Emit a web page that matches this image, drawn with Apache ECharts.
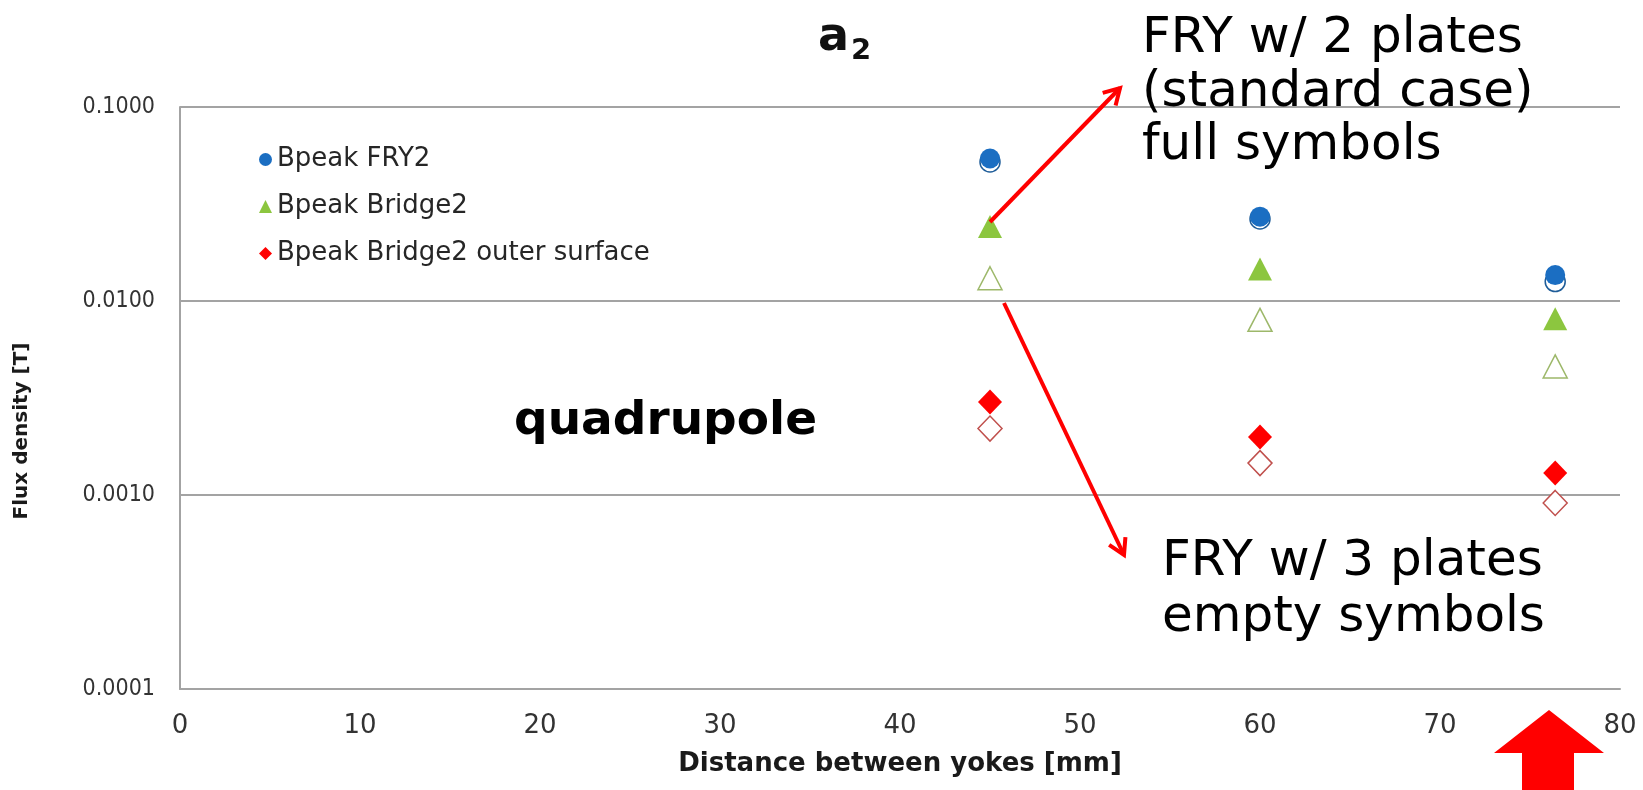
<!DOCTYPE html>
<html>
<head>
<meta charset="utf-8">
<script src="https://cdn.jsdelivr.net/npm/echarts@6/dist/echarts.min.js"></script>
<style>
  html, body { margin: 0; padding: 0; background: #ffffff; }
  #chart { width: 1643px; height: 790px; }
</style>
</head>
<body>
<div id="chart"></div>
<script>
// Distance between yokes [mm]
const distances = [45, 60, 76.4];

// Peak flux density [T], FRY with 2 plates (full symbols)
const fry2Plates = [0.0543, 0.0272, 0.0136];
const bridge2Plates = [0.0242, 0.0146, 0.0081];
const outer2Plates = [0.00302, 0.00199, 0.00130];

// Peak flux density [T], FRY with 3 plates (empty symbols)
const fry3Plates = [0.0521, 0.0265, 0.0126];
const bridge3Plates = [0.0131, 0.0080, 0.0046];
const outer3Plates = [0.00220, 0.00146, 0.00091];

const legendNames = ['Bpeak FRY2', 'Bpeak Bridge2', 'Bpeak Bridge2 outer surface'];
const xTicks = { min: 0, max: 80, step: 10 };
const yTicks = { min: 0.0001, max: 0.1 };

const FONT = 'DejaVu Sans';
const TICK_FONT = '"DejaVu Sans Condensed", "DejaVu Sans"';
const GRID_GRAY = '#a3a3a3';

function pairs(xs, ys) { return xs.map((x, i) => [x, ys[i]]); }

function fullSeries(name, symbol, size, color, ys) {
  return {
    name, type: 'scatter', symbol, symbolSize: size,
    itemStyle: { color, opacity: 1 },
    data: pairs(distances, ys), z: 3
  };
}
function emptySeries(name, symbol, size, stroke, ys) {
  return {
    name, type: 'scatter', symbol, symbolSize: size,
    itemStyle: { color: '#ffffff', borderColor: stroke, borderWidth: 1.5, opacity: 1 },
    data: pairs(distances, ys), z: 2
  };
}

const chart = echarts.init(document.getElementById('chart'), null, { renderer: 'canvas' });

chart.setOption({
  backgroundColor: '#ffffff',
  animation: false,
  title: {
    text: '{a|a}{s|2}',
    left: 813, top: 10,
    textStyle: {
      rich: {
        a: { fontFamily: FONT, fontWeight: 'bold', fontSize: 46, color: '#111', lineHeight: 46 },
        s: { fontFamily: FONT, fontWeight: 'bold', fontSize: 29, color: '#111', lineHeight: 20, padding: [26, 0, 0, 2] }
      }
    }
  },
  legend: {
    data: legendNames,
    orient: 'vertical',
    left: 254, top: 141,
    itemWidth: 13, itemHeight: 13, itemGap: 20,
    textStyle: { fontFamily: FONT, fontSize: 26, color: '#262626', lineHeight: 27 },
    selectedMode: false
  },
  grid: { left: 180, right: 23, top: 107, bottom: 101, containLabel: false },
  xAxis: {
    type: 'value', min: xTicks.min, max: xTicks.max, interval: xTicks.step,
    name: 'Distance between yokes [mm]',
    nameLocation: 'middle', nameGap: 62,
    nameTextStyle: { fontFamily: FONT, fontWeight: 'bold', fontSize: 26, color: '#1a1a1a' },
    axisLine: { show: true, lineStyle: { color: GRID_GRAY, width: 2 } },
    axisTick: { show: false },
    splitLine: { show: false },
    axisLabel: { fontFamily: FONT, fontSize: 26, color: '#333', margin: 24 }
  },
  yAxis: {
    type: 'log', logBase: 10, min: yTicks.min, max: yTicks.max,
    name: 'Flux density [T]',
    nameLocation: 'middle', nameGap: 148, nameRotate: 90,
    nameTextStyle: { fontFamily: FONT, fontWeight: 'bold', fontSize: 20, color: '#1a1a1a', padding: [0, 66, 0, 0] },
    axisLine: { show: true, lineStyle: { color: GRID_GRAY, width: 2 } },
    axisTick: { show: false },
    splitLine: { show: true, lineStyle: { color: GRID_GRAY, width: 2 } },
    axisLabel: { fontFamily: TICK_FONT, fontSize: 23, color: '#333', margin: 25, formatter: v => Number(v).toFixed(4) }
  },
  series: [
    emptySeries('Bpeak FRY2 (3 plates)', 'circle', 20, '#1f5d99', fry3Plates),
    emptySeries('Bpeak Bridge2 (3 plates)', 'triangle', [24, 23], '#9db86a', bridge3Plates),
    emptySeries('Bpeak Bridge2 outer surface (3 plates)', 'diamond', [24, 25], '#c0504d', outer3Plates),
    fullSeries(legendNames[0], 'circle', 20, '#1b6ec2', fry2Plates),
    fullSeries(legendNames[1], 'triangle', [24, 23], '#8cc63f', bridge2Plates),
    fullSeries(legendNames[2], 'diamond', [24, 25], '#ff0000', outer2Plates)
  ]
});

// Annotations: callout texts and arrows
function arrowLine(x1, y1, x2, y2, color, width, head) {
  const ang = Math.atan2(y2 - y1, x2 - x1);
  const spread = Math.PI / 6;
  const w1 = [x2 - head * Math.cos(ang - spread), y2 - head * Math.sin(ang - spread)];
  const w2 = [x2 - head * Math.cos(ang + spread), y2 - head * Math.sin(ang + spread)];
  return [
    { type: 'line', shape: { x1, y1, x2, y2 }, style: { stroke: color, lineWidth: width }, z: 10 },
    { type: 'polyline', shape: { points: [w1, [x2, y2], w2] }, style: { stroke: color, lineWidth: width, fill: null }, z: 10 }
  ];
}
function label(text, x, y, size, weight) {
  return {
    type: 'text', z: 10,
    style: { text, x, y, font: `${weight || 'normal'} ${size}px "${FONT}"`, fill: '#000', textVerticalAlign: 'middle' }
  };
}

const RED = '#ff0000';
const graphics = [
  label('FRY w/ 2 plates', 1142, 39, 50),
  label('(standard case)', 1142, 93, 50),
  label('full symbols', 1142, 146, 50),
  label('FRY w/ 3 plates', 1162, 562, 50),
  label('empty symbols', 1162, 618, 50),
  label('quadrupole', 514, 422, 47, 'bold'),
  ...arrowLine(990, 222, 1120, 88, RED, 4, 18),
  ...arrowLine(1004, 303, 1124, 555, RED, 4, 18),
  {
    type: 'polygon', z: 10,
    shape: { points: [[1549, 710], [1494, 753], [1522, 753], [1522, 790], [1574, 790], [1574, 753], [1604, 753]] },
    style: { fill: RED }
  }
];
chart.setOption({ graphic: graphics });
</script>
</body>
</html>
